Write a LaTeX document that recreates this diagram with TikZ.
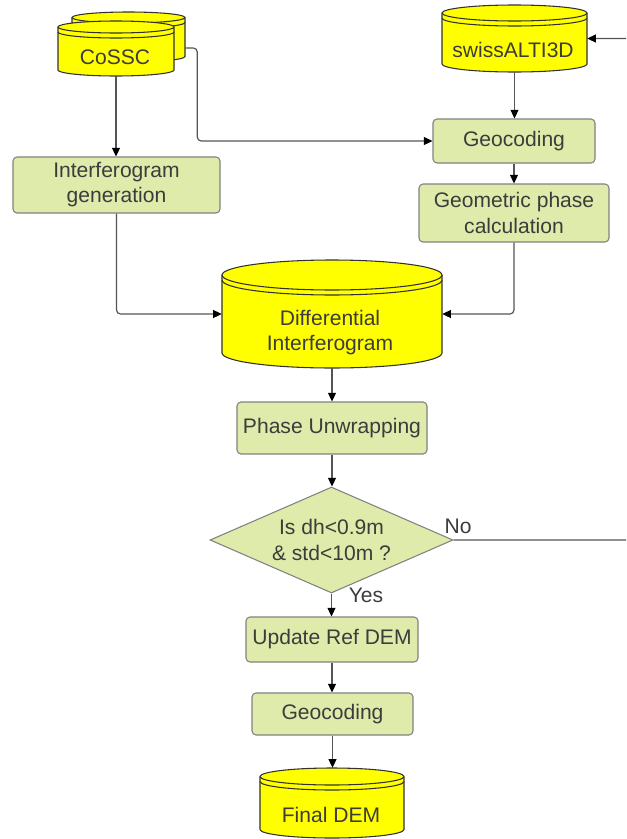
\documentclass[tikz,border=0pt]{standalone}
\usepackage{fontspec}
\setmainfont{Liberation Sans}
\usetikzlibrary{arrows.meta,shapes.geometric,calc}
\definecolor{boxfill}{RGB}{222,235,170}
\definecolor{boxline}{RGB}{130,130,130}
\definecolor{txt}{RGB}{60,60,60}
\definecolor{conn}{RGB}{85,85,85}
\definecolor{dbfill}{RGB}{255,255,0}
\definecolor{dbline}{RGB}{50,50,50}
\tikzset{
  box/.style={draw=boxline, fill=boxfill, rounded corners=3pt, line width=0.8pt,
    align=center, inner sep=0pt, text=txt, font=\fontsize{15.8}{18.8}\selectfont},
  dec/.style={draw=boxline, fill=boxfill, diamond, aspect=2.3, line width=0.8pt, align=center,
    inner sep=0pt, text=txt, font=\fontsize{15.8}{19.5}\selectfont},
  drumbody/.style={fill=dbfill, draw=dbline, line width=0.8pt},
  drumline/.style={draw=dbline, line width=0.8pt},
  dbtext/.style={align=center, text=txt, font=\fontsize{15.8}{18.8}\selectfont},
  lbl/.style={text=txt, font=\fontsize{15.8}{18.8}\selectfont},
  conn/.style={draw=conn, line width=0.9pt, rounded corners=3pt,
    -{Triangle[length=6.5pt,width=6pt,fill=black,color=black]}},
  plain/.style={draw=conn, line width=0.9pt, rounded corners=3pt}
}
% #1 name, #2 x1, #3 x2, #4 ytop, #5 ybot, #6 ellipse half-height
\newcommand\drum[6]{%
  \path[drumbody] (#2,-#4-#6) -- (#2,-#5+#6)
    arc[start angle=180,end angle=360,x radius={(#3-#2)/2},y radius=#6]
    -- (#3,-#4-#6)
    arc[start angle=0,end angle=180,x radius={(#3-#2)/2},y radius=#6] -- cycle;
  \draw[drumline] (#2,-#4-#6)
    arc[start angle=180,end angle=360,x radius={(#3-#2)/2},y radius=#6];
  \draw[drumline] (#2,-#4-#6-5)
    arc[start angle=180,end angle=360,x radius={(#3-#2)/2},y radius=#6];
  \node[inner sep=0pt, minimum width={(#3-#2)*0.75pt}, minimum height={(#5-#4)*0.75pt}]
    (#1) at ({(#2+#3)/2},{-(#4+#5)/2}) {};
}
\begin{document}
\begin{tikzpicture}[x=0.75pt,y=0.75pt]
\useasboundingbox (0,0) rectangle (626,-839);
\fill[white] (0,0) rectangle (626,-839);

% databases
\drum{cossc2}{72}{185}{12}{62}{5.5}
\drum{cossc}{58}{174}{21}{76}{6}
\node[dbtext] (cossct) at (115,-57) {CoSSC};
\drum{swiss}{442}{587}{5}{72}{8}
\node[dbtext] (swisst) at (513,-50) {swissALTI3D};
\drum{diff}{222}{442}{260}{368}{15}
\node[dbtext] (difft) at (330,-333) {Differential\\Interferogram};
\drum{final}{260}{404}{768}{838}{8.5}
\node[dbtext] (finalt) at (331,-815) {Final DEM};

% process boxes
\node[box, minimum width=121.5pt, minimum height=33pt] (geo1) at (514,-141) {Geocoding};
\node[box, minimum width=142.5pt, minimum height=43.5pt] (geom) at (514,-213) {Geometric phase\\calculation};
\node[box, minimum width=155.25pt, minimum height=42pt] (ifg) at (116.5,-185) {Interferogram\\generation};
\node[box, minimum width=142.5pt, minimum height=39pt] (pu) at (332,-428) {Phase Unwrapping};
\node[dec, minimum width=182.25pt, minimum height=79.5pt] (dia) at (331.5,-540) {Is dh<0.9m\\\& std<10m ?};
\node[box, minimum width=129pt, minimum height=33.75pt] (upd) at (332,-639.5) {Update Ref DEM};
\node[box, minimum width=120.75pt, minimum height=31.5pt] (geo2) at (332.5,-714) {Geocoding};

% labels
\node[lbl] (nolbl) at (458,-526) {No};
\node[lbl] (yeslbl) at (366,-595) {Yes};

% connectors
\draw[conn] (cossc.south) -- (cossc.south |- ifg.north);
\coordinate (cossout) at ([yshift=-8.25pt]cossc2.east);
\draw[conn] (cossout) -- ++(12,0) |- (geo1.west);
\draw[conn] (swiss.south) -- (swiss.south |- geo1.north);
\draw[conn] (geo1.south) -- (geo1.south |- geom.north);
\draw[conn] (ifg.south) |- (diff.west);
\draw[conn] (geom.south) |- (diff.east);
\draw[conn] (diff.south) -- (diff.south |- pu.north);
\draw[conn] (pu.south) -- (pu.south |- dia.north);
\draw[conn] (dia.south) -- (dia.south |- upd.north);
\draw[conn] (upd.south) -- (upd.south |- geo2.north);
\draw[conn] (geo2.south) -- (geo2.south |- final.north);
\begin{scope}
  \clip (0,0) rectangle (626,-839);
  \coordinate (ret) at (640,-540);
  \draw[conn] (dia.east) -- (ret) |- (swiss.east);
\end{scope}
\end{tikzpicture}
\end{document}
